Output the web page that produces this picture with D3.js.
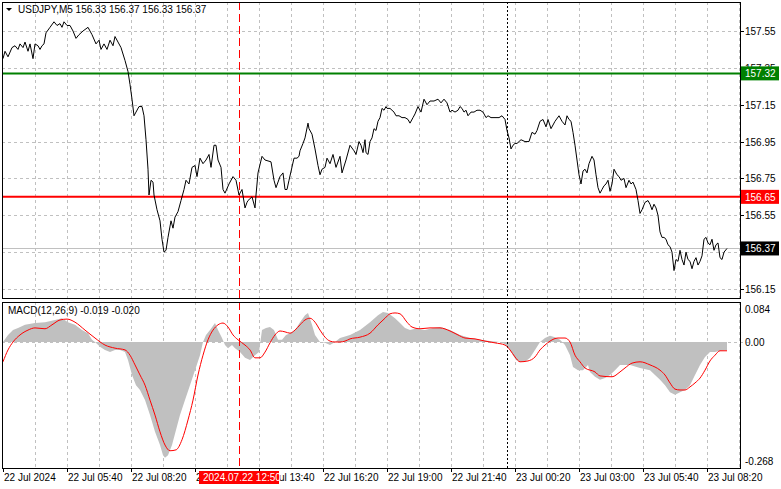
<!DOCTYPE html>
<html><head><meta charset="utf-8">
<script src="https://cdn.jsdelivr.net/npm/d3@7"></script>
<style>body{margin:0;background:#fff}svg{display:block}text{font-family:"Liberation Sans",Arial,sans-serif;font-size:10px}</style>
</head><body><svg id="c" width="781" height="489"></svg>
<script>
const priceBars=[0,1,2.5,4.5,6,7.5,8.5,10,11,12.5,13.5,15,16,17.5,18.5,19.5,20.5,21.5,23.5,25.5,27,28.5,29.5,30.5,32,33.5,35,36.5,38,40,42.5,44.5,46.5,48,49,50.5,52,53.5,55,56,57.5,59,61,62.5,63.5,64.5,65.5,66.5,68,69.5,70.5,71.5,72.5,73,74,75,75.5,77,78.5,79.5,80.5,81.5,82.5,84,85,86,87.5,89,90.5,91.5,93,94.5,96,97,98.5,100,101.5,103,104,105.5,106.5,107.5,109,110,111,113,115,116.5,118,119.5,121,122,122.5,124.5,126,126.5,127.5,129.5,131,134,135.5,136.5,138.5,140,141,142,143,145.5,147,148,148.5,150,151,152.5,153,154.5,156,157.5,158.5,159.5,161,162,163.5,165,166.5,168.5,169.5,171.5,173.5,175.5,176.5,178,179,180,181,181.5,182.5,183.5,184.5,185.5,186.5,187.5,188.5,189.5,190.5,191.5,192,193.5,195.5,196.5,198,199.5,201,202.5,203.5,205,206,207.5,209,210.5,212,213.5,215.5,217.5,219,220.5,222,223.5,224.5,226,227.5,228.5,229.5,230.5,231.5,232.5,234,235.5,237,238.5,240,241.5,242.5,244,245.5,247,248,249.5,251,252,253,254,255,256,257,258,259,261,263,264.5,266,267,268.5,270,271.5,272.5,274,276,278,279.5,281,282,283,284,285,286,287,288,289,290,291,292,293,294.5,295.5,296.5,297.5,298.5,299.5,300.5,301.5,302.5,303.5,304.5,305.5,307,308,309,310.5,311.5,313,314,315,316.5,317.5,318.5,319.5,321,322.5,323.5,324.5,325.5,326.5,327.5,328.5,329.5,330.5,331.5,332.5,333.5,334.5,335.5,336.5,337.5,338.5,339.5,340.5,341.5,342.5,343.5,344.5,345.5,346.5,347.5,348.5,349.5,350.5,351.5,352.5,353.5,354.5,355.5,356.5,357.5,358.5,359.5,360.5,362];
const priceValues=[157.40,157.44,157.41,157.46,157.47,157.45,157.48,157.46,157.49,157.44,157.48,157.40,157.48,157.47,157.45,157.47,157.48,157.54,157.57,157.60,157.58,157.59,157.57,157.60,157.58,157.58,157.55,157.51,157.53,157.55,157.57,157.53,157.48,157.50,157.45,157.48,157.45,157.50,157.47,157.52,157.49,157.46,157.39,157.33,157.26,157.18,157.09,157.11,157.14,157.14,157.09,156.96,156.80,156.66,156.74,156.73,156.66,156.58,156.52,156.42,156.35,156.36,156.43,156.52,156.48,156.54,156.57,156.63,156.69,156.74,156.72,156.81,156.82,156.76,156.86,156.83,156.85,156.88,156.81,156.93,156.93,156.85,156.81,156.69,156.67,156.72,156.76,156.74,156.66,156.69,156.59,156.62,156.63,156.65,156.59,156.66,156.78,156.87,156.85,156.84,156.74,156.70,156.76,156.78,156.69,156.69,156.74,156.86,156.86,156.87,156.90,156.94,156.97,157.05,157.02,156.99,156.91,156.82,156.77,156.80,156.81,156.86,156.83,156.88,156.81,156.87,156.78,156.85,156.93,156.90,156.88,156.95,156.93,156.89,156.96,156.89,156.88,156.95,156.97,157.02,157.01,157.06,157.08,157.13,157.12,157.14,157.13,157.13,157.11,157.09,157.09,157.08,157.08,157.07,157.05,157.08,157.10,157.14,157.11,157.18,157.15,157.17,157.17,157.18,157.16,157.18,157.16,157.11,157.12,157.11,157.12,157.14,157.13,157.11,157.12,157.09,157.11,157.11,157.12,157.12,157.11,157.08,157.09,157.08,157.08,157.08,157.08,157.09,157.07,157.01,156.97,156.91,156.93,156.94,156.94,156.95,156.96,156.95,156.95,157.00,156.99,157.01,157.06,157.07,157.03,157.07,157.02,157.06,157.09,157.06,157.04,157.09,157.07,157.06,157.00,156.93,156.85,156.77,156.72,156.79,156.80,156.78,156.83,156.87,156.85,156.77,156.70,156.67,156.69,156.71,156.72,156.74,156.68,156.72,156.80,156.77,156.76,156.74,156.75,156.70,156.74,156.72,156.73,156.69,156.63,156.56,156.58,156.62,156.63,156.61,156.58,156.61,156.59,156.55,156.46,156.43,156.43,156.42,156.39,156.38,156.35,156.25,156.31,156.30,156.36,156.31,156.28,156.35,156.31,156.30,156.26,156.30,156.32,156.28,156.30,156.33,156.42,156.43,156.40,156.39,156.42,156.36,156.39,156.40,156.32,156.31,156.35,156.37];
const histBars=[0,2.5,5,7.5,11,16,21,26,29.5,32.5,36,39.5,42.5,44.5,46,48.5,51,53.5,56,58.5,61,62.5,64.5,66.5,68.5,71,73.5,76,78.5,80,81,82.5,84.5,86.5,88.5,91,93.5,96,98.5,100,101.5,103.5,106,107.5,109.5,111,112.5,114.5,116,118.5,121,123.5,126,128,129.5,131.5,133.5,135.5,137.5,139.5,141.5,143.5,146,148.5,151,152.5,154.5,156,158.5,161,163.5,166,168.5,173.5,178.5,183.5,187.5,190,192.5,196,198.5,201,203.5,206,211,215,218.5,223.5,228.5,233.5,238.5,243.5,248.5,251,253.5,255,256.5,258.5,261,263.5,266,268.5,271,273.5,276,278.5,281,283.5,285,287.5,290,292.5,293.5,296,298.5,301,303.5,306,308.5,313.5,318.5,323.5,326,328.5,331,333.5,336,338.5,341,343.5,346,348.5,351,353.5,356,358.5,361,362];
const histValues=[0,0.016,0.027,0.032,0.039,0.043,0.045,0.050,0.054,0.045,0.039,0.027,0.020,0.005,0,-0.011,-0.018,-0.023,-0.018,-0.018,-0.023,-0.041,-0.075,-0.098,-0.109,-0.132,-0.166,-0.204,-0.234,-0.257,-0.263,-0.257,-0.234,-0.200,-0.166,-0.132,-0.098,-0.064,-0.030,0,0.016,0.027,0.043,0.027,0.009,-0.007,-0.014,-0.007,-0.014,-0.023,-0.036,-0.041,-0.030,-0.023,0.027,0.032,0.034,0.027,0.005,0.005,0.016,0.020,0.027,0.045,0.061,0.066,0.039,0.016,0,-0.002,-0.007,0,0.009,0.016,0.027,0.045,0.061,0.068,0.066,0.054,0.043,0.032,0.027,0.030,0.027,0.032,0.034,0.027,0.016,0.009,0.005,0.002,0,-0.005,-0.018,-0.030,-0.041,-0.045,-0.045,-0.036,-0.018,0,0.009,0.014,0.011,0.005,-0.007,-0.030,-0.057,-0.064,-0.064,-0.052,-0.068,-0.079,-0.086,-0.082,-0.075,-0.064,-0.052,-0.052,-0.059,-0.064,-0.075,-0.086,-0.098,-0.114,-0.120,-0.114,-0.109,-0.098,-0.075,-0.052,-0.034,-0.023,-0.023,-0.020,-0.019,-0.019];
const sigBars=[0,2.5,5,8.5,12.5,16,21,24.5,28.5,32,36,41,46,51,56,61,63.5,66,68.5,71,73.5,76,78.5,81,83.5,86.5,89.5,92.5,95,97.5,100,102.5,105,107.5,110,112.5,115,117.5,121,123.5,126,128.5,131,133.5,136,138.5,141,143.5,146,148.5,151,153.5,156,158.5,161,163.5,166,168.5,171,173.5,178.5,183.5,187.5,191,193.5,196,198.5,202,204.5,208.5,213.5,218.5,223.5,227.5,231,236,241,246,251,253.5,256,258.5,262.5,266,268.5,271,273.5,277.5,281,283.5,286,288.5,291,296,298.5,304.5,308.5,311,314.5,318.5,323.5,328.5,331,333.5,336,338.5,341,343.5,346,348.5,351,353.5,356,358.5,362];
const sigValues=[-0.045,-0.018,0,0.016,0.027,0.032,0.030,0.039,0.050,0.052,0.045,0.027,0.009,-0.007,-0.014,-0.018,-0.030,-0.052,-0.075,-0.098,-0.132,-0.166,-0.204,-0.234,-0.247,-0.245,-0.222,-0.177,-0.132,-0.075,-0.030,0.005,0.027,0.039,0.043,0.034,0.016,0.005,-0.007,-0.018,-0.036,-0.036,-0.023,-0.002,0.016,0.025,0.023,0.020,0.027,0.039,0.050,0.054,0.045,0.027,0.011,0.002,0,0,0.002,0.007,0.011,0.020,0.039,0.054,0.064,0.066,0.064,0.045,0.034,0.030,0.032,0.032,0.025,0.016,0.009,0.007,0.002,-0.002,-0.007,-0.018,-0.034,-0.045,-0.043,-0.034,-0.018,-0.007,0.002,0.009,0.009,0,-0.030,-0.045,-0.059,-0.068,-0.077,-0.079,-0.068,-0.059,-0.048,-0.045,-0.052,-0.064,-0.075,-0.093,-0.107,-0.109,-0.109,-0.102,-0.093,-0.082,-0.064,-0.043,-0.030,-0.020,-0.020];
const priceTicks=[157.55,157.35,157.15,156.95,156.75,156.55,156.15];
const priceGrid=[157.55,157.35,157.15,156.95,156.75,156.55,156.35,156.15];
const timeLabelBars=[0,32,64,96,128,160,192,224,256,288,320,352];
const timeLabels=["22 Jul 2024","22 Jul 05:40","22 Jul 08:20","22 Jul 11:00","22 Jul 13:40","22 Jul 16:20","22 Jul 19:00","22 Jul 21:40","23 Jul 00:20","23 Jul 03:00","23 Jul 05:40","23 Jul 08:20"];
const gridBars=[16,32,48,64,80,96,112,128,144,160,176,192,208,224,240,256,272,288,304,320,336,352,368];
const levelGreen=157.32, levelRed=156.65, lastPrice=156.37;
const markerBar=118, sessionBar=252;
const macdTicks=[0.084,0.00,-0.268];

const svg=d3.select("#c");
const L=2,R=740,T1=2,B1=298,T2=302,B2=468;
const x=d3.scaleLinear().domain([0,368.5]).range([3,740]);
const y=d3.scaleLinear().domain([156.15,157.55]).range([289,31]);
const ym=d3.scaleLinear().domain([-0.268,0.084]).range([460,305]);
const gridC="#c0c0c0";
// grids
const g=svg.append("g");
gridBars.forEach(b=>{[[T1,B1],[T2,B2]].forEach(([a,c])=>g.append("line").attr("x1",x(b)+.5).attr("x2",x(b)+.5).attr("y1",a).attr("y2",c).attr("stroke",gridC).attr("stroke-dasharray","3,3"));});
priceGrid.forEach(p=>g.append("line").attr("x1",L).attr("x2",R).attr("y1",Math.round(y(p))+.5).attr("y2",Math.round(y(p))+.5).attr("stroke",gridC).attr("stroke-dasharray","3,3"));
g.append("line").attr("x1",L).attr("x2",R+10).attr("y1",Math.round(ym(0))+.5).attr("y2",Math.round(ym(0))+.5).attr("stroke",gridC).attr("stroke-dasharray","3,3");
// last price line
svg.append("line").attr("x1",L).attr("x2",R).attr("y1",Math.round(y(lastPrice))+.5).attr("y2",Math.round(y(lastPrice))+.5).attr("stroke","#c0c0c0");
// histogram
const hd=histBars.map((b,i)=>[b,histValues[i]]);
svg.append("path").datum(hd).attr("fill","#c0c0c0").attr("d",d3.area().x(d=>x(d[0])).y0(ym(0)).y1(d=>ym(d[1])));
// vertical markers
[[T1,B1],[T2,B2]].forEach(([a,c])=>{
 svg.append("line").attr("x1",x(markerBar)+.5).attr("x2",x(markerBar)+.5).attr("y1",a).attr("y2",c).attr("stroke","#ff0000").attr("stroke-dasharray","8,4");
 svg.append("line").attr("x1",x(sessionBar)+.5).attr("x2",x(sessionBar)+.5).attr("y1",a).attr("y2",c).attr("stroke","#000").attr("stroke-dasharray","2,2");
});
// levels
svg.append("line").attr("x1",L).attr("x2",R).attr("y1",y(levelGreen)).attr("y2",y(levelGreen)).attr("stroke","#008000").attr("stroke-width",2);
svg.append("line").attr("x1",L).attr("x2",R).attr("y1",y(levelRed)).attr("y2",y(levelRed)).attr("stroke","#ff0000").attr("stroke-width",2);
// price line
const pd=priceBars.map((b,i)=>[b,priceValues[i]]);
svg.append("path").datum(pd).attr("fill","none").attr("stroke","#000").attr("stroke-width",1).attr("d",d3.line().x(d=>x(d[0])).y(d=>y(d[1])));
// signal
const sd=sigBars.map((b,i)=>[b,sigValues[i]]);
svg.append("path").datum(sd).attr("fill","none").attr("stroke","#ff0000").attr("stroke-width",1).attr("d",d3.line().curve(d3.curveMonotoneX).x(d=>x(d[0])).y(d=>ym(d[1])));
// frames
svg.append("rect").attr("x",L+.5).attr("y",T1+.5).attr("width",R-L).attr("height",B1-T1).attr("fill","none").attr("stroke","#000");
svg.append("rect").attr("x",L+.5).attr("y",T2+.5).attr("width",R-L).attr("height",B2-T2).attr("fill","none").attr("stroke","#000");
// right axis
priceTicks.forEach(p=>{svg.append("line").attr("x1",R).attr("x2",R+4).attr("y1",Math.round(y(p))+.5).attr("y2",Math.round(y(p))+.5).attr("stroke","#000");
 svg.append("text").attr("x",745).attr("y",y(p)+4).text(p.toFixed(2));});
const mt=[[macdTicks[0],309],[macdTicks[1],ym(0)],[macdTicks[2],461]];
mt.forEach(([v,yy])=>{svg.append("text").attr("x",745).attr("y",yy+4).text(v.toFixed(v===0?2:3));});
function tag(v,col,tc){const yy=y(v);svg.append("rect").attr("x",741).attr("y",yy-7).attr("width",38).attr("height",14).attr("fill",col);
 svg.append("text").attr("x",745).attr("y",yy+4).attr("fill",tc).text(v.toFixed(2));}
tag(levelGreen,"#008000","#fff");tag(levelRed,"#ff0000","#fff");tag(lastPrice,"#000","#fff");
// bottom axis
timeLabelBars.forEach((b,i)=>{svg.append("line").attr("x1",x(b)+.5).attr("x2",x(b)+.5).attr("y1",B2).attr("y2",B2+4).attr("stroke","#000");
 svg.append("text").attr("x",x(b)+1).attr("y",481).text(timeLabels[i]);});
svg.append("rect").attr("x",199).attr("y",471).attr("width",80).attr("height",13).attr("fill","#ff0000");
svg.append("text").attr("x",203).attr("y",481).attr("fill","#fff").text("2024.07.22 12:50");
// headers
svg.append("path").attr("d","M6,8 L12,8 L9,11 Z").attr("fill","#000");
svg.append("text").attr("x",18).attr("y",13).text("USDJPY,M5  156.33 156.37 156.33 156.37");
svg.append("text").attr("x",8).attr("y",314).text("MACD(12,26,9) -0.019 -0.020");
</script></body></html>
